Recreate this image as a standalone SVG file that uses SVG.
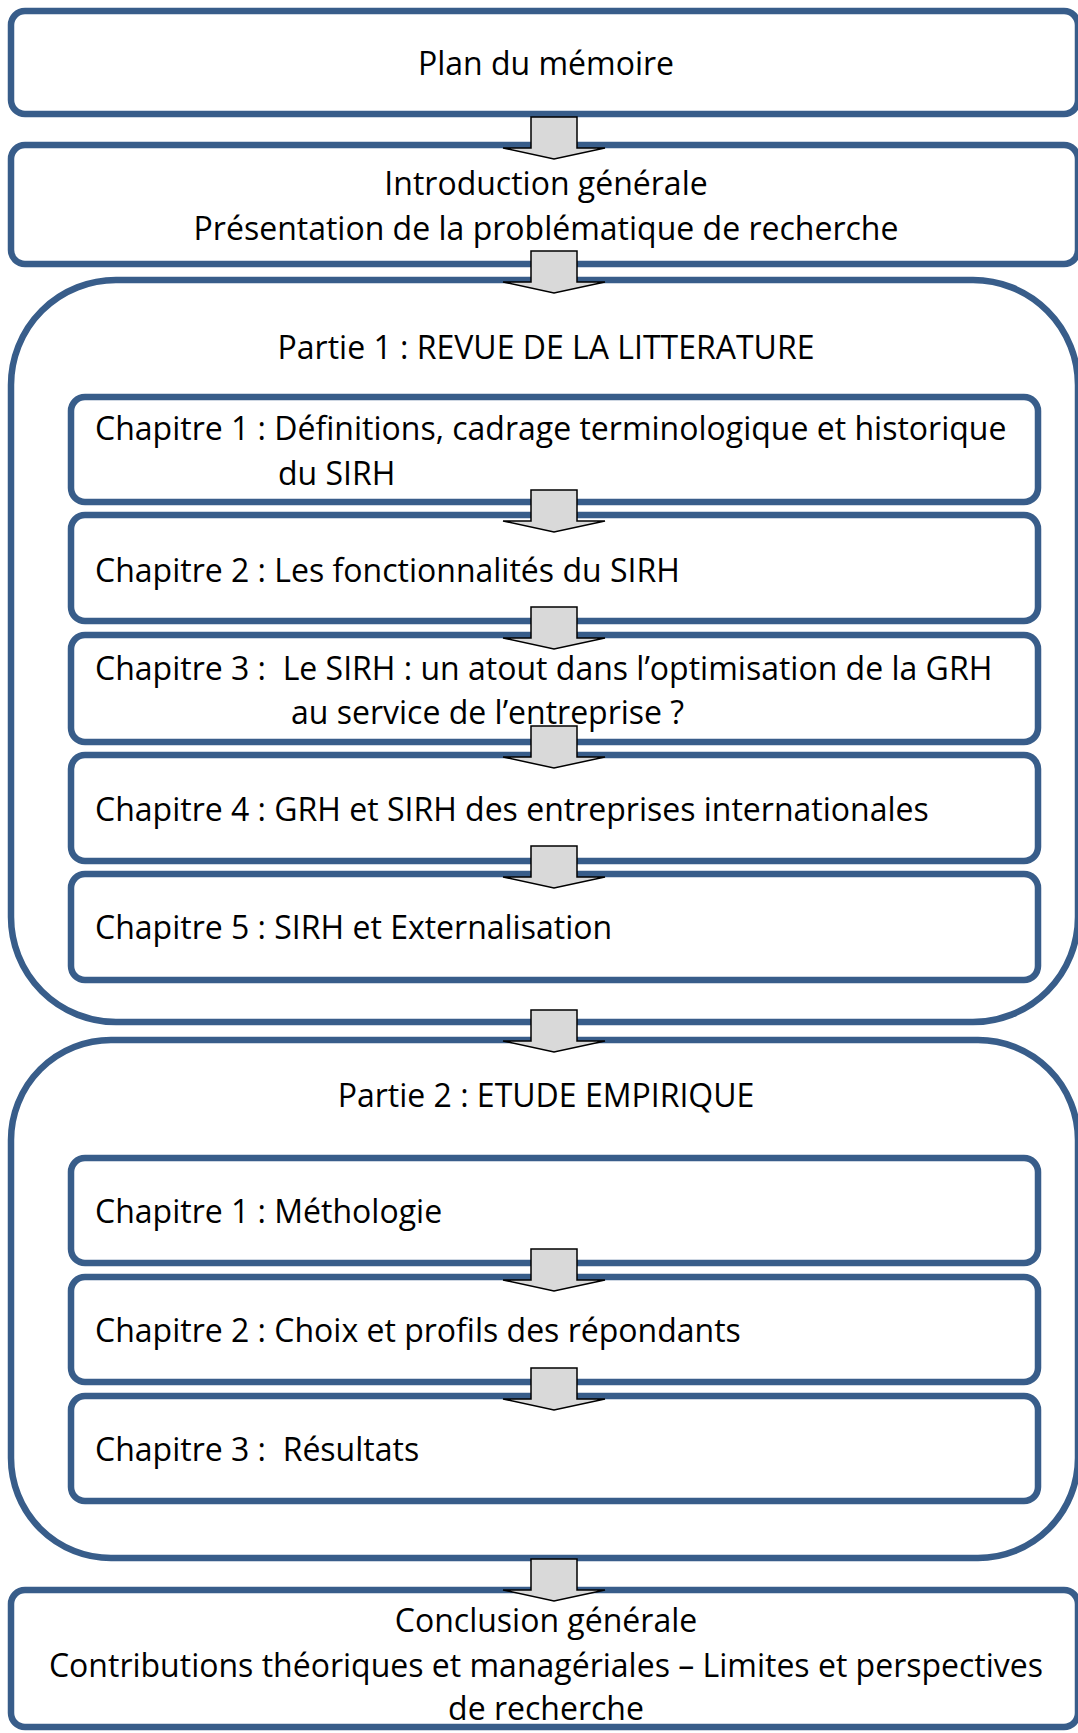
<svg xmlns="http://www.w3.org/2000/svg" width="1078" height="1733" viewBox="0 0 1078 1733">
<defs>
<style>
.box{fill:#ffffff;stroke:#385D8A;stroke-width:6.5}
.t{font-family:"Open Sans","DejaVu Sans",sans-serif;font-size:32px;fill:#000000}
.c{text-anchor:middle}
.arr{fill:#D9D9D9;stroke:#000000;stroke-width:1.5;stroke-linejoin:miter}
</style>
<path id="arrow" d="M531,-42 H577 V-11 H605 L554,0 L503,-11 H531 Z"/>
</defs>
<rect width="1078" height="1733" fill="#ffffff"/>

<g id="plan">
<rect class="box" x="11" y="11" width="1067" height="103" rx="14"/>
<text class="t c" x="546" y="75">Plan du mémoire</text>
</g>

<g id="intro">
<rect class="box" x="11" y="145" width="1067" height="119" rx="14"/>
<text class="t c" x="546" y="195">Introduction générale</text>
<text class="t c" x="546" y="240">Présentation de la problématique de recherche</text>
</g>

<g id="partie1">
<rect class="box" x="11" y="280" width="1067" height="742" rx="105"/>
<text class="t c" x="546" y="359">Partie 1 : REVUE DE LA LITTERATURE</text>
</g>

<g id="p1ch1">
<rect class="box" x="71" y="397" width="967" height="105" rx="14"/>
<text class="t" x="95" y="440">Chapitre 1 : Définitions, cadrage terminologique et historique</text>
<text class="t" x="278" y="485">du SIRH</text>
</g>

<g id="p1ch2">
<rect class="box" x="71" y="515" width="967" height="106" rx="14"/>
<text class="t" x="95" y="582">Chapitre 2 : Les fonctionnalités du SIRH</text>
</g>

<g id="p1ch3">
<rect class="box" x="71" y="635" width="967" height="107" rx="14"/>
<text class="t" x="95" y="680" xml:space="preserve">Chapitre 3 :  Le SIRH : un atout dans l’optimisation de la GRH</text>
<text class="t" x="291" y="724">au service de l’entreprise ?</text>
</g>

<g id="p1ch4">
<rect class="box" x="71" y="755" width="967" height="106" rx="14"/>
<text class="t" x="95" y="821">Chapitre 4 : GRH et SIRH des entreprises internationales</text>
</g>

<g id="p1ch5">
<rect class="box" x="71" y="874" width="967" height="106" rx="14"/>
<text class="t" x="95" y="939">Chapitre 5 : SIRH et Externalisation</text>
</g>

<g id="partie2">
<rect class="box" x="11" y="1040" width="1067" height="518" rx="100"/>
<text class="t c" x="546" y="1107">Partie 2 : ETUDE EMPIRIQUE</text>
</g>

<g id="p2ch1">
<rect class="box" x="71" y="1158" width="967" height="105" rx="14"/>
<text class="t" x="95" y="1223">Chapitre 1 : Méthologie</text>
</g>

<g id="p2ch2">
<rect class="box" x="71" y="1277" width="967" height="105" rx="14"/>
<text class="t" x="95" y="1342">Chapitre 2 : Choix et profils des répondants</text>
</g>

<g id="p2ch3">
<rect class="box" x="71" y="1396" width="967" height="105" rx="14"/>
<text class="t" x="95" y="1461" xml:space="preserve">Chapitre 3 :  Résultats</text>
</g>

<g id="conclusion">
<rect class="box" x="11" y="1590" width="1067" height="137" rx="14"/>
<text class="t c" x="546" y="1632">Conclusion générale</text>
<text class="t c" x="546" y="1677">Contributions théoriques et managériales – Limites et perspectives</text>
<text class="t c" x="546" y="1720">de recherche</text>
</g>

<g id="connectors">
<use href="#arrow" class="arr" transform="translate(0,159)"/>
<use href="#arrow" class="arr" transform="translate(0,293)"/>
<use href="#arrow" class="arr" transform="translate(0,532)"/>
<use href="#arrow" class="arr" transform="translate(0,649)"/>
<use href="#arrow" class="arr" transform="translate(0,768)"/>
<use href="#arrow" class="arr" transform="translate(0,888)"/>
<use href="#arrow" class="arr" transform="translate(0,1052)"/>
<use href="#arrow" class="arr" transform="translate(0,1291)"/>
<use href="#arrow" class="arr" transform="translate(0,1410)"/>
<use href="#arrow" class="arr" transform="translate(0,1601)"/>
</g>
</svg>
